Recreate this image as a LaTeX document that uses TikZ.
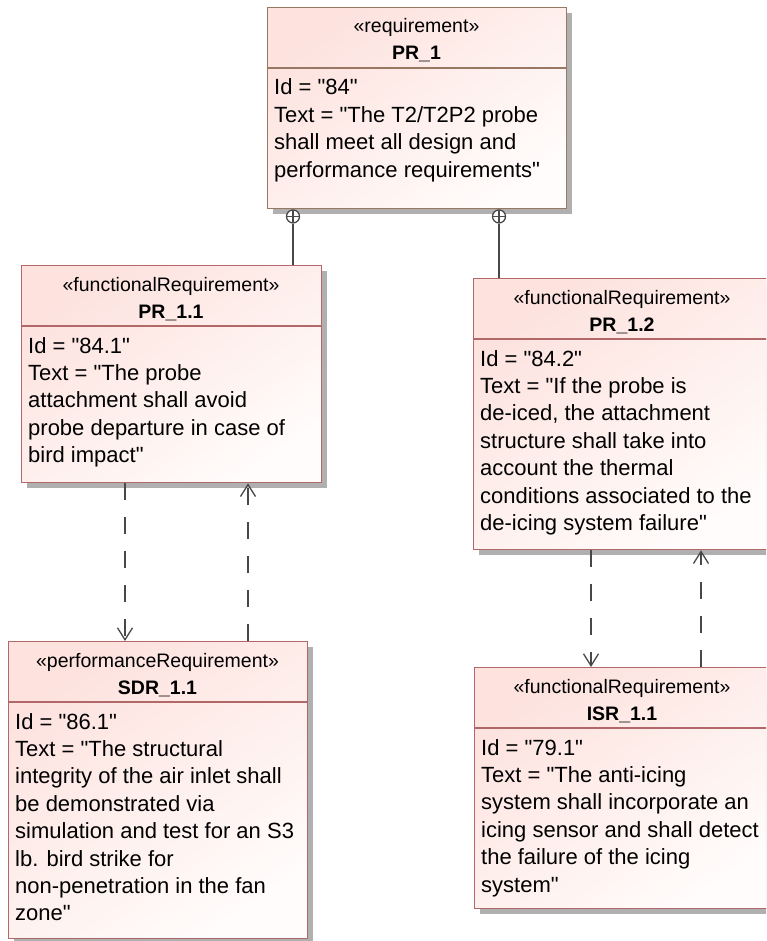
\documentclass[tikz,border=0pt]{standalone}
\usepackage{fontspec}
\setmainfont{Liberation Sans}[Ligatures=TeXOff]
\usetikzlibrary{arrows.meta,shadows}

\definecolor{reqedge}{RGB}{178,104,104}
\definecolor{rootedge}{RGB}{152,120,98}
\definecolor{reqfill}{RGB}{253,226,222}
\definecolor{reqfillend}{RGB}{255,252,251}
\definecolor{shadowgray}{RGB}{176,176,176}
\definecolor{linkgray}{RGB}{72,72,72}

\tikzset{
  reqbox/.style={anchor=north west, inner sep=0pt, line width=1.3pt,
    top color=reqfill, bottom color=reqfillend, shading angle=35,
    drop shadow={shadow xshift=5pt, shadow yshift=-5pt, fill=shadowgray, opacity=1}},
  stereotext/.style={anchor=base, inner sep=0pt, font=\fontsize{19.5pt}{23pt}\selectfont},
  titletext/.style={anchor=base, inner sep=0pt, font=\bfseries\fontsize{19.5pt}{23pt}\selectfont},
  bodytext/.style={anchor=base west, inner sep=0pt, font=\fontsize{22pt}{27.4pt}\selectfont},
  link/.style={draw=linkgray, line width=1.3pt},
  circplus/.style={circle, draw=linkgray, line width=1.3pt, fill=white, inner sep=0pt,
    minimum size=13pt, anchor=north,
    path picture={\draw[linkgray, line width=1.3pt]
      (path picture bounding box.north) -- (path picture bounding box.south)
      (path picture bounding box.west) -- (path picture bounding box.east);}},
  dep/.style={draw=linkgray, line width=1.3pt, dash pattern=on 17pt off 17pt,
    -{Straight Barb[length=12pt, width=15pt, line width=1.3pt]}}
}

% #1 name, #2 left, #3 top, #4 right, #5 bottom, #6 edge colour,
% #7 stereotype, #8 title, #9 attribute lines
\newcommand{\reqblock}[9]{%
  \node[reqbox, draw=#6, minimum width={(#4-#2)*1pt}, minimum height={(#5-#3)*1pt}]
    (#1) at (#2,#3) {};
  \draw[draw=#6, line width=1.3pt] (#2,{#3+61}) -- (#4,{#3+61});
  \node[stereotext] (#1-st) at ({(#2+#4)/2},{#3+26}) {«#7»};
  \node[titletext] (#1-ti) at ({(#2+#4)/2},{#3+53}) {#8};
  \node[bodytext] (#1-bd) at ({#2+7},{#3+88}) {\parbox[t]{420pt}{#9}};
}

\begin{document}
\begin{tikzpicture}[x=1pt, y=-1pt]
  \useasboundingbox (0,0) rectangle (766,941);
  \clip (0,0) rectangle (766,941);
  \fill[white] (0,0) rectangle (766,941);

  % requirement blocks
  \reqblock{pr1}{267}{7}{566}{208}{rootedge}{requirement}{PR\_1}%
    {Id = "84"\\Text = "The T2/T2P2 probe\\shall meet all design and\\performance requirements"}
  \reqblock{pr11}{21}{265}{321}{482}{reqedge}{functionalRequirement}{PR\_1.1}%
    {Id = "84.1"\\Text = "The probe\\attachment shall avoid\\probe departure in case of\\bird impact"}
  \reqblock{pr12}{473}{278}{771}{549}{reqedge}{functionalRequirement}{PR\_1.2}%
    {Id = "84.2"\\Text = "If the probe is\\de-iced, the attachment\\structure shall take into\\account the thermal\\conditions associated to the\\de-icing system failure"}
  \reqblock{sdr}{8}{641}{307}{938}{reqedge}{performanceRequirement}{SDR\_1.1}%
    {Id = "86.1"\\Text = "The structural\\integrity of the air inlet shall\\be demonstrated via\\simulation and test for an S3\\lb. bird strike for\\non-penetration in the fan\\zone"}
  \reqblock{isr}{474}{667}{770}{908}{reqedge}{functionalRequirement}{ISR\_1.1}%
    {Id = "79.1"\\Text = "The anti-icing\\system shall incorporate an\\icing sensor and shall detect\\the failure of the icing\\system"}

  % connector columns
  \coordinate (xa) at (293,0);
  \coordinate (xb) at (499,0);
  \coordinate (xc) at (125,0);
  \coordinate (xd) at (248,0);
  \coordinate (xe) at (591,0);
  \coordinate (xf) at (701,0);

  % containment from PR_1
  \node[circplus] (plusa) at (pr1.south -| xa) {};
  \node[circplus] (plusb) at (pr1.south -| xb) {};
  \draw[link] (plusa.south) -- (pr11.north -| xa);
  \draw[link] (plusb.south) -- (pr12.north -| xb);

  % dependencies
  \draw[dep] (pr11.south -| xc) -- (sdr.north -| xc);
  \draw[dep] (sdr.north -| xd) -- (pr11.south -| xd);
  \draw[dep] (pr12.south -| xe) -- (isr.north -| xe);
  \draw[dep] (isr.north -| xf) -- (pr12.south -| xf);
\end{tikzpicture}
\end{document}
